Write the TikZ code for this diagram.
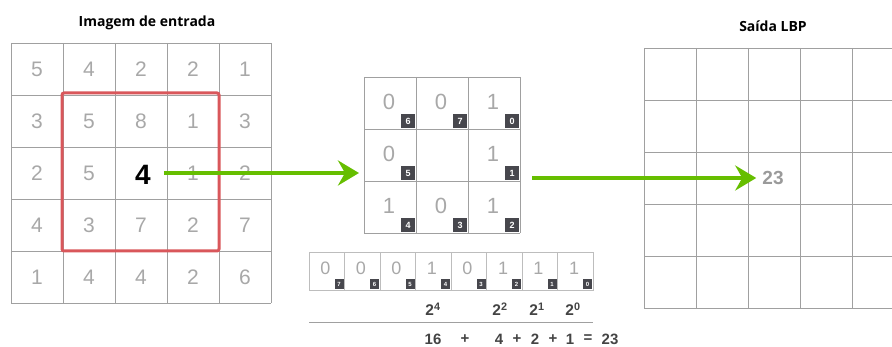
\documentclass[tikz,border=0pt]{standalone}
\usepackage{fontspec}
\setmainfont{Liberation Sans}
\newfontfamily\titlefont{Open Sans}
\usetikzlibrary{arrows.meta}

\definecolor{gridgray}{HTML}{A0A0A0}
\definecolor{digitgray}{HTML}{A8A8A8}
\definecolor{badgegray}{HTML}{47474D}
\definecolor{lbpgreen}{HTML}{66BE00}
\definecolor{winred}{HTML}{D9575B}
\definecolor{sumgray}{HTML}{444444}
\definecolor{outgray}{HTML}{9A9A9A}

\tikzset{
  gridline/.style={draw=gridgray, line width=0.9pt},
  celldigit/.style={inner sep=0pt, text=digitgray, font=\fontsize{21}{21}\selectfont},
  middigit/.style={inner sep=0pt, text=digitgray, font=\fontsize{22}{22}\selectfont},
  rowdigit/.style={inner sep=0pt, text=digitgray, font=\fontsize{18}{18}\selectfont},
  bigbadgetxt/.style={inner sep=0pt, text=white, font=\bfseries\fontsize{9}{9}\selectfont},
  smallbadgetxt/.style={inner sep=0pt, text=white, font=\bfseries\fontsize{6}{6}\selectfont},
  powtxt/.style={inner sep=0pt, text=sumgray, font=\bfseries\fontsize{15.5}{15.5}\selectfont},
  sumtxt/.style={inner sep=0pt, text=sumgray, font=\bfseries\fontsize{15}{15}\selectfont},
  titletxt/.style={inner sep=0pt, text=black, font=\titlefont\bfseries\fontsize{14}{14}\selectfont},
  greenarrow/.style={draw=lbpgreen, line width=4pt,
    -{Stealth[length=21pt, width=25pt, inset=7pt, fill=lbpgreen]}},
}

\begin{document}
\begin{tikzpicture}[x=1pt, y=-1pt]
\useasboundingbox (0,0) rectangle (892,347);

% ---------- input image ----------
\node[titletxt] (intitle) at (147,23) {Imagem de entrada};
\foreach \i in {0,...,5} {
  \draw[gridline] (11+52*\i,43) -- (11+52*\i,303);
  \draw[gridline] (11,43+52*\i) -- (271,43+52*\i);
}
\foreach \c/\r/\v in {0/0/5,1/0/4,2/0/2,3/0/2,4/0/1,
                      0/1/3,1/1/5,2/1/8,3/1/1,4/1/3,
                      0/2/2,1/2/5,3/2/1,4/2/2,
                      0/3/4,1/3/3,2/3/7,3/3/2,4/3/7,
                      0/4/1,1/4/4,2/4/4,3/4/2,4/4/6} {
  \node[celldigit] at (37+52*\c,69+52*\r) {\v};
}
\node[inner sep=0pt, font=\bfseries\fontsize{28}{28}\selectfont] (center) at (143,175) {4};
% 3x3 neighbourhood window
\draw[winred, line width=3pt, rounded corners=2pt] (62,93) rectangle (219,251);

% ---------- thresholded neighbourhood ----------
\foreach \i in {0,...,3} {
  \draw[gridline] (364+52*\i,77) -- (364+52*\i,233);
  \draw[gridline] (364,77+52*\i) -- (520,77+52*\i);
}
\coordinate (midwest) at (364,173);
\coordinate (mideast) at (520,178);
\foreach \c/\r/\v/\b in {0/0/0/6,1/0/0/7,2/0/1/0,
                         0/1/0/5,2/1/1/1,
                         0/2/1/4,1/2/0/3,2/2/1/2} {
  \node[middigit] at (389+52*\c,102+52*\r) {\v};
  \fill[badgegray] (401+52*\c,114+52*\r) rectangle (415+52*\c,128+52*\r);
  \node[bigbadgetxt] at (408+52*\c,121+52*\r) {\b};
}

% ---------- binary code row ----------
\foreach \i/\v/\b in {0/0/7,1/0/6,2/0/5,3/1/4,4/0/3,5/1/2,6/1/1,7/1/0} {
  \draw[gridline, draw=gridgray!70] (309+35.5*\i,252) rectangle (344.5+35.5*\i,290);
  \node[rowdigit] at (325.5+35.5*\i,268) {\v};
  \fill[badgegray] (334.5+35.5*\i,279.5) rectangle (343.5+35.5*\i,289.5);
  \node[smallbadgetxt] at (339+35.5*\i,284.5) {\b};
}
\node[powtxt] (p4) at (433,309) {2\textsuperscript{4}};
\node[powtxt] (p2) at (500,309) {2\textsuperscript{2}};
\node[powtxt] (p1) at (537,309) {2\textsuperscript{1}};
\node[powtxt] (p0) at (573,309) {2\textsuperscript{0}};
\draw[draw=gridgray, line width=0.9pt] (309,322) -- (593,322);
\node[sumtxt] (s16) at (433,339) {16};
\node[sumtxt] at (465,339) {+};
\node[sumtxt] at (499,339) {4};
\node[sumtxt] at (517,339) {+};
\node[sumtxt] at (535,339) {2};
\node[sumtxt] at (553,339) {+};
\node[sumtxt] at (570,339) {1};
\node[sumtxt] at (588,339) {=};
\node[sumtxt] (s23) at (610,339) {23};

% ---------- LBP output ----------
\node[titletxt] (outtitle) at (773,26) {Saída LBP};
\foreach \i in {0,...,4} {
  \draw[gridline] (644+52*\i,48) -- (644+52*\i,308);
}
\foreach \i in {0,...,5} {
  \draw[gridline] (644,48+52*\i) -- (892,48+52*\i);
}
\node[inner sep=0pt, text=outgray, font=\bfseries\fontsize{19}{19}\selectfont] (out) at (773,178) {23};

% ---------- arrows ----------
\draw[greenarrow] ([xshift=13pt, yshift=2pt]center.east) -- ([xshift=-5pt]midwest);
\draw[greenarrow] ([xshift=12pt]mideast) -- ([xshift=-6pt]out.west);
\end{tikzpicture}
\end{document}
